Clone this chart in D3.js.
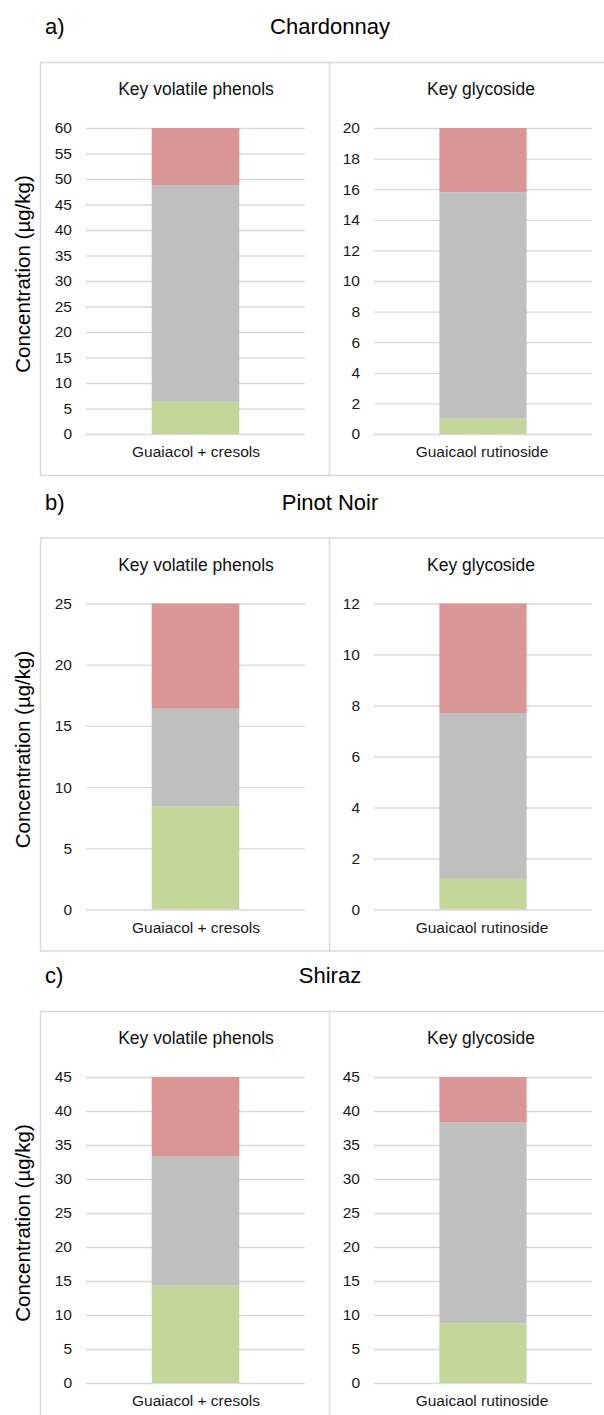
<!DOCTYPE html>
<html>
<head>
<meta charset="utf-8">
<script src="https://cdn.jsdelivr.net/npm/d3@7"></script>
<style>
  body { margin: 0; background: #fff; }
  svg { display: block; font-family: "Liberation Sans", Arial, sans-serif; }
</style>
</head>
<body>
<div id="chart"></div>
<script>
const panelLetters = ["a)", "b)", "c)"];
const varieties = ["Chardonnay", "Pinot Noir", "Shiraz"];
const subTitles = ["Key volatile phenols", "Key glycoside"];
const categories = ["Guaiacol + cresols", "Guaicaol rutinoside"];
const seriesKeys = ["bottom", "middle", "top"];

// stacked segments, bottom to top: [phenols, glycoside]
const chardonnayValues = [[6.3, 42.5, 11.2], [1.0, 14.8, 4.2]];
const pinotNoirValues = [[8.4, 8.0, 8.6], [1.2, 6.5, 4.3]];
const shirazValues = [[14.3, 19.0, 11.7], [8.8, 29.5, 6.7]];

const axisMax = [[60, 20], [25, 12], [45, 45]];
const tickSteps = [[5, 2], [5, 2], [5, 5]];

const panelValues = [chardonnayValues, pinotNoirValues, shirazValues];

const width = 604;
const height = 1415;
const seriesColors = ["#c4d79b", "#bfbfbf", "#da9694"];
const gridColor = "#d9d9d9";
const panelTops = [62, 537.5, 1011];
const boxWidth = 600;
const boxHeight = 413;
const plotX = [[86, 305], [374, 592]];
const plotTop = 66;
const plotBottom = 372;

const svg = d3.select("#chart").append("svg")
  .attr("width", width)
  .attr("height", height);

const stack = d3.stack().keys(seriesKeys);

varieties.forEach((variety, p) => {
  const g = svg.append("g")
    .attr("transform", `translate(0,${panelTops[p]})`);

  g.append("text")
    .attr("x", 45)
    .attr("y", -28)
    .attr("fill", "#000")
    .style("font-size", "22px")
    .text(panelLetters[p]);

  g.append("text")
    .attr("x", 330)
    .attr("y", -28)
    .attr("text-anchor", "middle")
    .attr("fill", "#000")
    .style("font-size", "22px")
    .text(variety);

  // chart area frames
  g.append("rect")
    .attr("x", 40.5)
    .attr("y", 0.5)
    .attr("width", boxWidth)
    .attr("height", boxHeight)
    .attr("fill", "none")
    .attr("stroke", gridColor)
    .attr("stroke-width", 1.5);

  g.append("line")
    .attr("x1", 329.5).attr("x2", 329.5)
    .attr("y1", 0.5).attr("y2", boxHeight + 0.5)
    .attr("stroke", gridColor)
    .attr("stroke-width", 1.5);

  g.append("text")
    .attr("transform", "translate(22,212) rotate(-90)")
    .attr("text-anchor", "middle")
    .attr("dominant-baseline", "central")
    .attr("fill", "#000")
    .style("font-size", "20.5px")
    .text("Concentration (µg/kg)");

  subTitles.forEach((subTitle, k) => {
    const [x0, x1] = plotX[k];
    const center = k === 0 ? 196 : 481;

    const x = d3.scaleBand()
      .domain([categories[k]])
      .range([x0, x1])
      .paddingInner(0)
      .paddingOuter(0.75);

    const y = d3.scaleLinear()
      .domain([0, axisMax[p][k]])
      .range([plotBottom, plotTop]);

    g.append("text")
      .attr("x", center)
      .attr("y", 33)
      .attr("text-anchor", "middle")
      .attr("fill", "#111")
      .style("font-size", "17.5px")
      .text(subTitle);

    const ticks = d3.range(0, axisMax[p][k] + 0.001, tickSteps[p][k]);

    const axis = g.append("g")
      .attr("transform", `translate(${x0},0)`)
      .call(d3.axisLeft(y)
        .tickValues(ticks)
        .tickSize(-(x1 - x0))
        .tickPadding(14)
        .tickFormat(d3.format("d")));

    axis.select(".domain").remove();
    axis.selectAll(".tick line")
      .attr("stroke", gridColor)
      .attr("stroke-width", 1.3);
    axis.selectAll(".tick text")
      .attr("fill", "#1a1a1a")
      .style("font-size", "15.5px")
      .style("font-family", "'Liberation Sans', Arial, sans-serif");

    const row = { category: categories[k] };
    seriesKeys.forEach((key, i) => { row[key] = panelValues[p][k][i]; });

    g.append("g")
      .selectAll("rect")
      .data(stack([row]))
      .join("rect")
      .attr("x", x(categories[k]))
      .attr("width", x.bandwidth())
      .attr("y", d => y(d[0][1]))
      .attr("height", d => y(d[0][0]) - y(d[0][1]))
      .attr("fill", (d, i) => seriesColors[i]);

    g.append("text")
      .attr("x", k === 0 ? 196 : 482)
      .attr("y", 395)
      .attr("text-anchor", "middle")
      .attr("fill", "#1a1a1a")
      .style("font-size", "15.5px")
      .text(categories[k]);
  });
});
</script>
</body>
</html>
